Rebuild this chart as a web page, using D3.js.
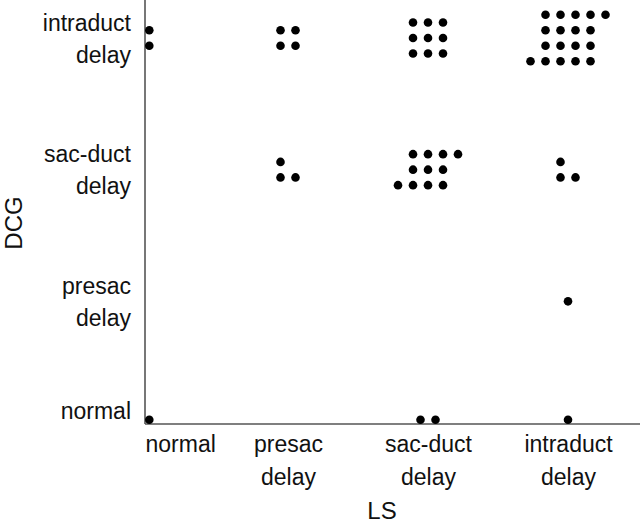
<!DOCTYPE html>
<html>
<head>
<meta charset="utf-8">
<script src="https://cdn.jsdelivr.net/npm/d3@7"></script>
<style>
  body { margin: 0; background: #fff; }
  svg { display: block; font-family: "Liberation Sans", Arial, Helvetica, sans-serif; }
</style>
</head>
<body>
<svg width="640" height="523"></svg>
<script>
// categories, bottom to top on the y axis, left to right on the x axis
let lsLevels = ["normal", "presac delay", "sac-duct delay", "intraduct delay"];
let dcgLevels = ["normal", "presac delay", "sac-duct delay", "intraduct delay"];

// number of cases in each cell, one array per DCG level, in lsLevels order
let countsDcgNormal = [1, 0, 2, 1];
let countsDcgPresac = [0, 0, 0, 1];
let countsDcgSacDuct = [0, 3, 11, 3];
let countsDcgIntraduct = [2, 4, 9, 18];

let countRows = [countsDcgNormal, countsDcgPresac, countsDcgSacDuct, countsDcgIntraduct];

let cells = [];
countRows.forEach(function (row, yi) {
    row.forEach(function (n, xi) {
        if (n > 0) cells.push({ ls: lsLevels[xi], dcg: dcgLevels[yi], n: n, bottom: yi === 0 });
    });
});

const W = 640, H = 523;
const axisX = 145, axisY = 424;
const r = 4.3, stepX = 15, stepY = 15.5;

let svg = d3.select('svg');

let x = d3.scalePoint().domain(lsLevels).range([148, 568]);
let y = d3.scalePoint().domain(dcgLevels).range([433, 38]);

// grid offsets (in dot units) for n dots packed around a cell centre
function packCell(n, flat) {
    let pts = [];
    if (n <= 3) {
        // small groups: two rows, filled column by column; flat along the x axis
        let rows = (n === 1 || flat) ? 1 : 2;
        let cols = Math.ceil(n / rows);
        for (let i = 0; i < n; i++) {
            let c = Math.floor(i / rows), rr = i % rows;
            if (rows > 1 && c === cols - 1 && n % rows === 1) rr = rows - 1;
            pts.push({ c: c - (cols - 1) / 2, r: rr - (rows - 1) / 2 });
        }
        return pts;
    }
    let k = Math.floor(Math.sqrt(n));
    for (let i = 0; i < k * k; i++) {
        pts.push({ c: i % k - (k - 1) / 2, r: Math.floor(i / k) - (k - 1) / 2 });
    }
    // left-overs go to the right of the top rows and the left of the bottom rows
    for (let j = 0; j < n - k * k; j++) {
        let half = Math.floor(j / 2);
        if (j % 2 === 0) pts.push({ c: k - (k - 1) / 2, r: half - (k - 1) / 2 });
        else pts.push({ c: -1 - (k - 1) / 2, r: k - 1 - half - (k - 1) / 2 });
    }
    return pts;
}

let dots = [];
cells.forEach(function (cell) {
    let pts = packCell(cell.n, cell.bottom).map(function (p) {
        return { x: x(cell.ls) + p.c * stepX, y: y(cell.dcg) + p.r * stepY };
    });
    // keep the whole group inside the axes
    let shiftX = Math.max(0, axisX + r - d3.min(pts, d => d.x));
    let shiftY = Math.min(0, axisY - r - d3.max(pts, d => d.y));
    pts.forEach(function (p) { dots.push({ x: p.x + shiftX, y: p.y + shiftY }); });
});

// axis lines
svg.append('line')
    .attr('x1', axisX).attr('y1', 0).attr('x2', axisX).attr('y2', axisY)
    .attr('stroke', '#555').attr('stroke-width', 1.6);
svg.append('line')
    .attr('x1', axisX).attr('y1', axisY).attr('x2', W).attr('y2', axisY)
    .attr('stroke', '#555').attr('stroke-width', 1.6);

// tick labels
let xAxis = svg.append('g')
    .attr('transform', 'translate(0,' + axisY + ')')
    .call(d3.axisBottom(x).tickSize(0));
xAxis.select('.domain').remove();
xAxis.selectAll('.tick text').each(function (d) {
    let t = d3.select(this);
    let words = d.split(' ');
    t.text(null).attr('dy', null).attr('y', null)
        .attr('font-size', 23).attr('fill', '#111').attr('font-family', null);
    words.forEach(function (w, i) {
        t.append('tspan').attr('x', 0).attr('y', 28 + i * 33).text(w);
    });
    // nudge a label right if it would cross the y axis
    let wMax = d3.max(t.selectAll('tspan').nodes(), n => n.getComputedTextLength());
    let left = x(d) - wMax / 2;
    if (left < axisX) t.selectAll('tspan').attr('x', axisX - left);
});

let yAxis = svg.append('g')
    .attr('transform', 'translate(' + axisX + ',0)')
    .call(d3.axisLeft(y).tickSize(0));
yAxis.select('.domain').remove();
yAxis.selectAll('.tick text').each(function (d) {
    let t = d3.select(this);
    let words = d.split(' ');
    t.text(null).attr('dy', null)
        .attr('font-size', 23).attr('fill', '#111').attr('font-family', null);
    let last = 8 + ((words.length - 1) / 2) * 32;
    let lift = Math.min(0, (axisY - 6) - (y(d) + last));
    words.forEach(function (w, i) {
        t.append('tspan').attr('x', -14)
            .attr('y', 8 + (i - (words.length - 1) / 2) * 32 + lift).text(w);
    });
});

// points
svg.append('g')
    .selectAll('circle')
    .data(dots)
    .join('circle')
    .attr('cx', function (d) { return d.x; })
    .attr('cy', function (d) { return d.y; })
    .attr('r', r)
    .attr('fill', '#000');

// axis titles
svg.append('text')
    .attr('x', 382).attr('y', 519)
    .attr('text-anchor', 'middle')
    .attr('font-size', 24).attr('fill', '#111')
    .text('LS');
svg.append('text')
    .attr('transform', 'translate(22,223) rotate(-90)')
    .attr('text-anchor', 'middle')
    .attr('font-size', 24).attr('fill', '#111')
    .text('DCG');
</script>
</body>
</html>
